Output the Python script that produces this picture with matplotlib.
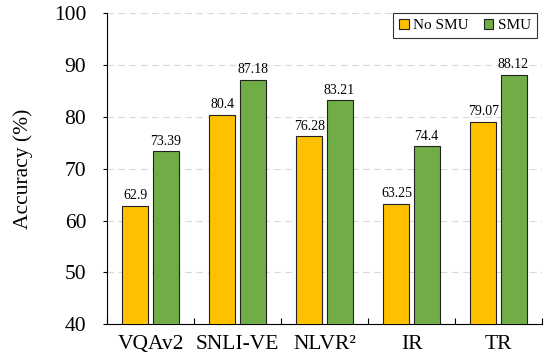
import numpy as np
import matplotlib
matplotlib.use('Agg')
import matplotlib.pyplot as plt
from matplotlib.ticker import FixedLocator

plt.rcParams['font.family'] = ['Liberation Serif', 'DejaVu Serif']

tasks = ['VQAv2', 'SNLI-VE', 'NLVR²', 'IR', 'TR']
no_smu = [62.9, 80.4, 76.28, 63.25, 79.07]
smu = [73.39, 87.18, 83.21, 74.4, 88.12]

fig = plt.figure(figsize=(5.46, 3.64), dpi=100)
ax = fig.add_axes([107 / 546, 1 - 324.3 / 364, 435 / 546, 311 / 364])

x = np.arange(len(tasks))
w = 0.3
gap = 0.023
b1 = ax.bar(x - w / 2 - gap, no_smu, w, color='#FFC000', edgecolor='#222222', linewidth=0.8, label='No SMU', zorder=3)
b2 = ax.bar(x + w / 2 + gap, smu, w, color='#70AD47', edgecolor='#222222', linewidth=0.8, label='SMU', zorder=3)

for bars, vals in [(b1, no_smu), (b2, smu)]:
    for b, v in zip(bars, vals):
        ax.annotate(f'{v:g}', (b.get_x() + b.get_width() / 2, v), xytext=(0, 2.5),
                    textcoords='offset points', ha='center', va='bottom', fontsize=10)

ax.set_xlim(-0.5, len(tasks) - 0.5)
ax.set_ylim(40, 100)
ax.set_yticks(range(40, 101, 10))
ax.set_xticks(x)
ax.set_xticklabels(tasks, fontsize=15.5)
ax.tick_params(axis='x', which='major', length=0, pad=8)
ax.xaxis.set_minor_locator(FixedLocator(np.arange(-0.5, len(tasks), 1.0)))
ax.tick_params(axis='x', which='minor', direction='in', length=4, width=0.8)
ax.tick_params(axis='y', labelsize=15.5, direction='out', length=3, width=0.8, pad=12)
ax.set_ylabel('Accuracy (%)', fontsize=15.5, labelpad=15)

ax.yaxis.grid(True, linestyle=(0, (6, 4)), color='#d9d9d9', linewidth=0.8, zorder=0)
ax.set_axisbelow(True)
ax.spines['top'].set_visible(False)
ax.spines['right'].set_visible(False)

leg = ax.legend(loc='upper right', bbox_to_anchor=(537 / 546, 1 - 13 / 364), bbox_transform=fig.transFigure,
                ncol=2, fontsize=11, frameon=True, fancybox=False, edgecolor='black',
                handlelength=0.6, handleheight=0.6, handletextpad=0.3, columnspacing=1.0,
                borderaxespad=0, borderpad=0.4)
leg.get_frame().set_linewidth(0.8)

fig.savefig('out.png', dpi=100)
